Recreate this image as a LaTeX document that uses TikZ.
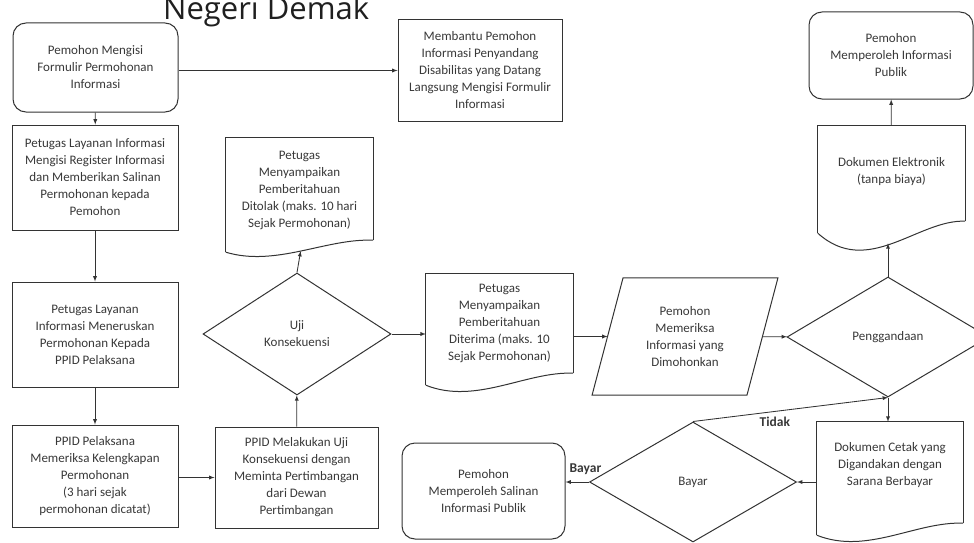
\documentclass[tikz,border=0pt]{standalone}
\usepackage{fontspec}
\setmainfont{Carlito}
\newfontfamily\titlefont{Open Sans}
\usetikzlibrary{shapes.geometric,calc}

\definecolor{inkline}{HTML}{333333}
\definecolor{inktext}{HTML}{383838}

\tikzset{
  every node/.style={font=\fontsize{13}{17}\selectfont, text=inktext, align=center},
  edgeline/.style={draw=inkline, line width=1pt},
  conn/.style={draw=inkline, line width=0.85pt, ->, >=latex},
  box/.style={edgeline, rectangle, inner sep=0pt},
  roundbox/.style={box, rounded corners=13pt},
  decision/.style={edgeline, diamond, inner sep=0pt},
  docbox/.style={rectangle, inner sep=0pt},
  iobox/.style={rectangle, inner sep=0pt},
  lbl/.style={font=\bfseries\fontsize{13.5}{16}\selectfont},
}

% document outline: node, wave depth, drop of the left corner below the node
\newcommand{\docoutline}[3]{%
  \draw[edgeline] ([yshift=-#3pt]#1.south west) -- (#1.north west) -- (#1.north east)
    -- ([yshift=-#3pt+12pt]#1.south east);
  \draw[edgeline] ([yshift=-#3pt]#1.south west) .. controls +(50,#2) and +(-47,-2)
    .. ([yshift=-#3pt+12pt]#1.south east) coordinate[pos=0.5] (#1w);
}

\begin{document}
\begin{tikzpicture}[x=1pt,y=-1pt]
  \useasboundingbox (0,0) rectangle (974,543);

  \node[font=\titlefont\fontsize{31}{36}\selectfont, text=black!88, anchor=base west, inner sep=0pt]
    (title) at (163,20) {Negeri Demak};

  % left column
  \node[roundbox, minimum width=165pt, minimum height=89pt] (start) at (95.5,67.5)
    {Pemohon Mengisi\\Formulir Permohonan\\Informasi};
  \node[box, minimum width=164pt, minimum height=101pt] (bantu) at (480,70.5)
    {Membantu Pemohon\\Informasi Penyandang\\Disabilitas yang Datang\\Langsung Mengisi Formulir\\Informasi};
  \node[box, minimum width=166pt, minimum height=105pt] (reg) at (95,177.5)
    {Petugas Layanan Informasi\\Mengisi Register Informasi\\dan Memberikan Salinan\\Permohonan kepada\\Pemohon};
  \node[box, minimum width=166pt, minimum height=105pt] (neru) at (95,334.5)
    {Petugas Layanan\\Informasi Meneruskan\\Permohonan Kepada\\PPID Pelaksana};
  \node[box, minimum width=166pt, minimum height=102pt] (pel) at (95,476)
    {PPID Pelaksana\\Memeriksa Kelengkapan\\Permohonan\\(3 hari sejak\\permohonan dicatat)};
  \node[box, minimum width=163pt, minimum height=101pt] (mel) at (296.5,477.5)
    {PPID Melakukan Uji\\Konsekuensi dengan\\Meminta Pertimbangan\\dari Dewan\\Pertimbangan};

  % middle
  \node[decision, minimum width=188pt, minimum height=122pt] (uji) at (297,334)
    {Uji\\Konsekuensi};
  \node[docbox, minimum width=147pt, minimum height=104pt] (dtl) at (299.5,190)
    {Petugas\\Menyampaikan\\Pemberitahuan\\Ditolak (maks. 10 hari\\Sejak Permohonan)};
  \docoutline{dtl}{15}{10}
  \node[docbox, minimum width=147pt, minimum height=98pt] (dit) at (499.5,323)
    {Petugas\\Menyampaikan\\Pemberitahuan\\Diterima (maks. 10\\Sejak Permohonan)};
  \docoutline{dit}{20}{13}
  \node[iobox, minimum width=154.5pt, minimum height=117pt] (mem) at (685,336.5)
    {Pemohon\\Memeriksa\\Informasi yang\\Dimohonkan};
  \draw[edgeline] ($(mem.north west)+(15.5,0)$) -- ($(mem.north east)+(15.5,0)$)
    -- ($(mem.south east)+(-15.5,0)$) -- ($(mem.south west)+(-15.5,0)$) -- cycle;

  % right column
  \node[decision, minimum width=202pt, minimum height=120pt] (gand) at (888,337) {Penggandaan};
  \node[docbox, minimum width=147pt, minimum height=91pt] (elek) at (891.5,171.5)
    {Dokumen Elektronik\\(tanpa biaya)};
  \docoutline{elek}{45}{16}
  \node[roundbox, minimum width=164pt, minimum height=87pt] (pub) at (891,55.5)
    {Pemohon\\Memperoleh Informasi\\Publik};
  \node[docbox, minimum width=146pt, minimum height=86pt] (cetak) at (890,465)
    {Dokumen Cetak yang\\Digandakan dengan\\Sarana Berbayar};
  \docoutline{cetak}{20}{27}
  \node[decision, minimum width=207pt, minimum height=120pt] (bayar) at (693,482) {Bayar};
  \node[roundbox, minimum width=163pt, minimum height=96pt] (salin) at (483.5,491)
    {Pemohon\\Memperoleh Salinan\\Informasi Publik};

  % connectors
  \draw[conn] (start.east |- bantu.west) -- (bantu.west);
  \draw[conn] (start) -- (reg);
  \draw[conn] (reg) -- (neru);
  \draw[conn] (neru) -- (pel);
  \draw[conn] (pel.east |- mel.west) -- (mel.west);
  \draw[conn] (mel) -- (uji);
  \draw[conn] (uji.north) -- (dtlw);
  \draw[conn] (uji.east) -- (uji.east -| dit.west);
  \draw[conn] (dit.east |- mem) -- (mem);
  \draw[conn] (mem) -- (gand);
  \draw[conn] (gand.north) -- (gand.north |- elekw);
  \draw[conn] (elek) -- (pub);
  \draw[conn] (gand.south) -- (gand.south |- cetak.north);
  \draw[conn] (cetak.west |- bayar) -- (bayar.east);
  \draw[conn] (bayar.west) -- (bayar.west -| salin.east)
    node[lbl, pos=0.15, above, yshift=4pt] {Bayar};
  \draw[conn] (bayar.north) -- (gand.south)
    node[lbl, pos=0.42, below, yshift=-2pt] {Tidak};
\end{tikzpicture}
\end{document}
